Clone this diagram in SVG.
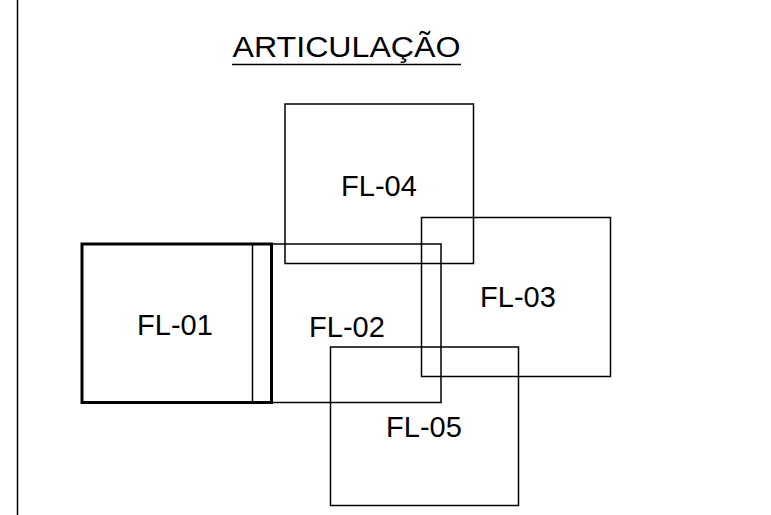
<svg xmlns="http://www.w3.org/2000/svg" width="771" height="515" viewBox="0 0 771 515">
<style>
.s{fill:none;stroke:#000;stroke-width:1.5}
.t{font-family:"Liberation Sans",Arial,sans-serif;font-size:29px;fill:#000;text-anchor:middle}
</style>
<rect width="771" height="515" fill="#fff"/>
<line x1="17.5" y1="0" x2="17.5" y2="515" stroke="#000" stroke-width="1.5"/>
<g id="title">
<text class="t" x="346.5" y="57" font-size="28.5" textLength="228" lengthAdjust="spacingAndGlyphs">ARTICULAÇÃO</text>
<line x1="232" y1="64.5" x2="461" y2="64.5" stroke="#000" stroke-width="1.5"/>
</g>
<g id="fl04"><rect class="s" x="285" y="104" width="188.5" height="159.5"/><text class="t" x="379" y="196">FL-04</text></g>
<g id="fl03"><rect class="s" x="421.5" y="217.5" width="189" height="159"/><text class="t" x="518" y="307">FL-03</text></g>
<g id="fl02"><rect class="s" x="252.5" y="244" width="188.5" height="158.5"/><text class="t" x="347" y="337">FL-02</text></g>
<g id="fl01"><rect x="82" y="244" width="189.5" height="158.5" fill="none" stroke="#000" stroke-width="3"/><text class="t" x="175" y="335">FL-01</text></g>
<g id="fl05"><rect class="s" x="330.5" y="347" width="188" height="158.5"/><text class="t" x="424" y="437">FL-05</text></g>
</svg>
